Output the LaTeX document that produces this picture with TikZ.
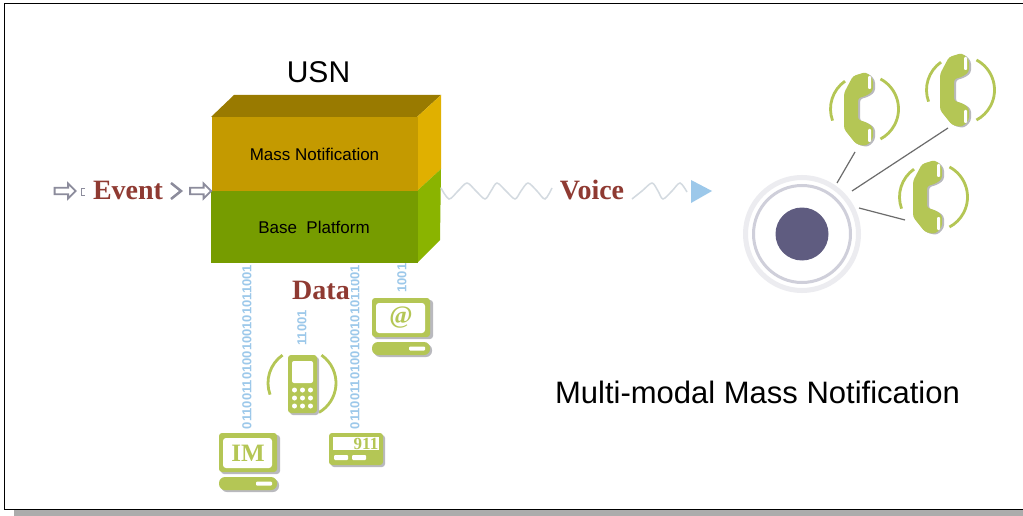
\documentclass[tikz,border=0pt]{standalone}
\usepackage{fontspec}
\setmainfont{Liberation Sans}
\newfontfamily\serifbold{Liberation Serif}
\usetikzlibrary{shapes.arrows}
\definecolor{topface}{HTML}{997A00}
\definecolor{massface}{HTML}{C49A00}
\definecolor{massside}{HTML}{E0B000}
\definecolor{baseface}{HTML}{769C00}
\definecolor{baseside}{HTML}{8AB400}
\definecolor{devgreen}{HTML}{B4C655}
\definecolor{devshadow}{HTML}{B9B9BE}
\definecolor{labelred}{HTML}{8F3A32}
\definecolor{bitblue}{HTML}{9CC8EA}
\definecolor{ringgrey}{HTML}{CFCFDA}
\definecolor{dotblue}{HTML}{5F5C80}
\definecolor{wavegrey}{HTML}{D3DAE0}
\definecolor{arrowgrey}{HTML}{8C8C9C}
\tikzset{
  redlabel/.style={font=\serifbold\bfseries\fontsize{28}{28}\selectfont,text=labelred,inner sep=0pt},
  bits/.style={font=\bfseries\fontsize{13}{13}\selectfont,text=bitblue,rotate=90,inner sep=0pt},
  wave/.style={draw=wavegrey,line width=1.5pt},
  devbody/.style={fill=devgreen,rounded corners=3pt},
  devscreen/.style={fill=white,rounded corners=3pt},
  hollowarrow/.style={draw=arrowgrey,line width=1.8pt,fill=white,single arrow,minimum width=15pt,minimum height=21pt,inner sep=1pt,single arrow head extend=2.5pt},
  phoneline/.style={draw=gray!85!black,line width=1.2pt},
  arcline/.style={draw=devgreen,line width=2.8pt},
}
% one handset with its two arcs, (0,0) is the middle of the handset
\newcommand{\handset}[1]{
  \begin{scope}[shift={#1}]
    \draw[arcline] (3.5,0) ++(-125:34) arc (-125:-200:34);
    \draw[arcline] (3.5,0) ++(-62:34) arc (-62:62:34);
    \fill[devshadow,shift={(2,1)},rounded corners=3pt] (-17,-16) -- (-8,-33) -- (5,-37) -- (12,-30) -- (12,-18) -- (5,-13) -- (-3,-11) -- (-3,11)
      -- (5,13) -- (12,18) -- (12,30) -- (5,37) -- (-5,35) -- (-17,20) -- cycle;
    \fill[devgreen,rounded corners=3pt] (-17,-16) -- (-8,-33) -- (5,-37) -- (12,-30) -- (12,-18) -- (5,-13) -- (-3,-11) -- (-3,11)
      -- (5,13) -- (12,18) -- (12,30) -- (5,37) -- (-5,35) -- (-17,20) -- cycle;
    \fill[white,rounded corners=1pt] (7,-33) rectangle (10,-20);
    \fill[white,rounded corners=1pt] (7,20) rectangle (10,33);
  \end{scope}
}
% one screen and keyboard
\newcommand{\terminal}[3]{
  \begin{scope}[shift={#1}]
    \fill[devshadow,rounded corners=3pt] (-27,-28) rectangle (32,11);
    \fill[devbody] (-29,-30) rectangle (29,9);
    \fill[devscreen] (-25,-25) rectangle (24,5);
    \node (#2) at (0,-10) [font=\serifbold\bfseries\fontsize{25}{25}\selectfont,text=devgreen,inner sep=0pt] {#3};
    \fill[devshadow,rounded corners=6pt] (-27,16) rectangle (31,29);
    \fill[devgreen,rounded corners=6pt] (-29,14) rectangle (29,27);
    \fill[white,rounded corners=1pt] (8,18.5) rectangle (24,22.5);
  \end{scope}
}
\begin{document}
\begin{tikzpicture}[x=1pt,y=-1pt]
  \useasboundingbox (0,0) rectangle (1023,516);
  % frame
  \fill[gray!65] (14,510) rectangle (1023,516);
  \draw[fill=white,line width=1.5pt,draw=black] (4.5,3.5) rectangle (1030,509.5);
  \node (usn) at (318.5,72) [font=\fontsize{30}{30}\selectfont,inner sep=0pt] {USN};

  % block
  \fill[topface] (211,117) -- (234,95) -- (441,95) -- (417,117) -- cycle;
  \fill[massside] (417,117) -- (441,95) -- (441,169) -- (417,191) -- cycle;
  \fill[baseside] (417,191) -- (441,169) -- (440,240) -- (417,263) -- cycle;
  \node (mass) at (314.5,154) [fill=massface,minimum width=206pt,minimum height=74pt,inner sep=0pt,font=\fontsize{17}{17}\selectfont] {Mass Notification};
  \node (base) at (314,227) [fill=baseface,minimum width=207pt,minimum height=72pt,inner sep=0pt,font=\fontsize{17}{17}\selectfont] {Base~~Platform};

  % bits under the block
  \node (bitsa) at (247,347) [bits] {01100110100100101011001};
  \node (bitsc) at (355,347) [bits] {01100110100100101011001};
  \node (bitsb) at (302,328) [bits] {11001};
  \node (bitsd) at (402,278) [bits] {1001};
  \node (data) at (321,290) [redlabel,fill=white,inner xsep=1pt] {Data};

  % event side
  \node (event) at (128,190) [redlabel] {Event};
  \node (arrowa) at (63.5,191) [hollowarrow] {};
  \node (arrowb) at (199,191) [hollowarrow] {};
  \draw[draw=arrowgrey,line width=1pt] (85,188) -- (81,188) -- (81,195) -- (85,195);
  \draw[draw=arrowgrey,line width=2.5pt] (171,183) -- (181,191) -- (171,199);

  % voice
  \node (voice) at (592,190) [redlabel] {Voice};
  \draw[wave] plot[smooth] coordinates {(441,188) (449,199) (458,191) (467,183) (476,191) (485,199) (491,191) (497,183) (506,191) (515,199) (521,191) (528,183) (537,191) (545,199) (552,188)};
  \draw[wave] plot[smooth] coordinates {(632,199) (642,191) (652,183) (658,191) (663,199) (672,191) (680,183) (687,192)};
  \fill[bitblue] (691,180) -- (712,191) -- (691,203) -- cycle;

  % devices
  \terminal{(248,463)}{im}{IM}
  \terminal{(401,328)}{at}{@}
  \fill[devshadow,rounded corners=3pt] (331,435) rectangle (385,467);
  \fill[devgreen,rounded corners=3pt] (329,433) rectangle (383,465);
  \fill[white] (333,437) rectangle (379,450);
  \node (nine) at (366,444) [font=\serifbold\bfseries\fontsize{17}{17}\selectfont,text=devgreen,inner sep=0pt] {911};
  \fill[white,rounded corners=1pt] (334,455) rectangle (348,460);
  \fill[white,rounded corners=1pt] (352,455) rectangle (366,460);

  % mobile
  \draw[arcline] (302,383) ++(-125:34) arc (-125:-200:34);
  \draw[arcline] (302,383) ++(-55:34) arc (-55:60:34);
  \fill[devshadow,rounded corners=3pt] (290,357) rectangle (319,415);
  \fill[devgreen,rounded corners=3pt] (288,355) rectangle (317,413);
  \fill[white,rounded corners=2pt] (292,361) rectangle (313,383);
  \foreach \i in {0,1,2} {
    \foreach \j in {0,1,2} {
      \fill[white] (294.5+8*\i,390+8*\j) circle (2.5);
    }
  }

  % phones
  \node (hub) at (802,234) [circle,fill=dotblue,minimum size=53pt,inner sep=0pt] {};
  \node (ringa) at (802,234) [circle,draw=ringgrey,line width=3pt,minimum size=97pt,inner sep=0pt] {};
  \node (ringb) at (802,234) [circle,draw=ringgrey!40,line width=5pt,minimum size=113pt,inner sep=0pt] {};
  \handset{(861,109)}
  \handset{(957,90)}
  \handset{(930,197)}
  \coordinate (lineaa) at (837,183);
  \coordinate (lineab) at (855,152);
  \coordinate (lineba) at (852,191);
  \coordinate (linebb) at (948,128);
  \coordinate (lineca) at (859,208);
  \coordinate (linecb) at (905,220);
  \draw[phoneline] (lineaa) -- (lineab);
  \draw[phoneline] (lineba) -- (linebb);
  \draw[phoneline] (lineca) -- (linecb);

  \node (title) at (757.5,392) [font=\fontsize{31}{31}\selectfont,inner sep=0pt] {Multi-modal Mass Notification};
\end{tikzpicture}
\end{document}
